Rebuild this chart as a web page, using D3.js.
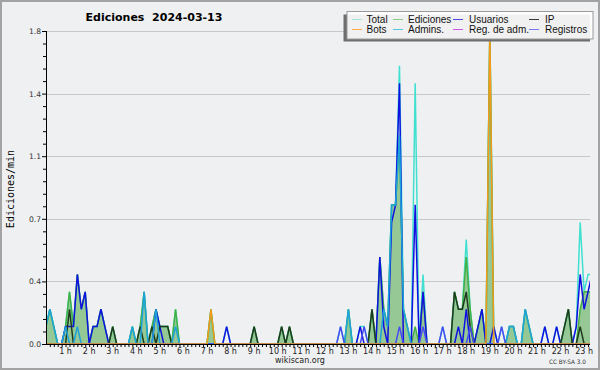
<!DOCTYPE html>
<html>
<head>
<meta charset="utf-8">
<script src="https://cdn.jsdelivr.net/npm/d3@7"></script>
<style>
  body { margin: 0; background: #fff; }
  svg { display: block; }
</style>
</head>
<body>
<div id="chart"></div>
<script>
// Ediciones por 10 minutos (en ediciones/min), 2024-03-13, índice = bloque de 10 min
const title = "Ediciones  2024-03-13";
const yLabel = "Ediciones/min";
const hourLabels = ["1 h", "2 h", "3 h", "4 h", "5 h", "6 h", "7 h", "8 h", "9 h", "10 h", "11 h", "12 h",
  "13 h", "14 h", "15 h", "16 h", "17 h", "18 h", "19 h", "20 h", "21 h", "22 h", "23 h"];
const yTicks = [0, 0.36, 0.72, 1.08, 1.44, 1.8];

const total = [
  0, 0.1, 0.2, 0.1, 0, 0, 0.1, 0.3, 0.1, 0.4, 0.2, 0.3,
  0, 0.1, 0.1, 0.2, 0.1, 0, 0.1, 0, 0, 0, 0, 0.1,
  0, 0.1, 0.3, 0, 0.1, 0.2, 0.1, 0.1, 0.1, 0, 0.2, 0,
  0, 0, 0, 0, 0, 0, 0, 0.2, 0, 0, 0, 0.1,
  0, 0, 0, 0, 0, 0, 0.1, 0, 0, 0, 0, 0,
  0, 0.1, 0, 0.1, 0, 0, 0, 0, 0, 0, 0, 0,
  0, 0, 0, 0, 0.1, 0, 0.2, 0, 0, 0.1, 0.1, 0,
  0.2, 0, 0.5, 0.2, 0.1, 0.8, 0.8, 1.6, 0.2, 0.1, 0, 1.5,
  0, 0.4, 0, 0, 0, 0, 0.1, 0, 0, 0.3, 0.2, 0.2,
  0.6, 0.2, 0, 0.1, 0.2, 0, 1.8, 0.1, 0, 0.1, 0, 0.1,
  0.1, 0, 0, 0.2, 0.1, 0, 0, 0, 0.1, 0, 0, 0.1,
  0, 0.1, 0.2, 0, 0.1, 0.7, 0.3, 0.4, 0.4, 0, 0, 0
];
const edits = [
  0, 0.1, 0.2, 0.1, 0, 0, 0.1, 0.3, 0.1, 0.4, 0.2, 0.3,
  0, 0.1, 0.1, 0.2, 0.1, 0, 0.1, 0, 0, 0, 0, 0.1,
  0, 0.1, 0.3, 0, 0.1, 0.2, 0.1, 0.1, 0.1, 0, 0.2, 0,
  0, 0, 0, 0, 0, 0, 0, 0.2, 0, 0, 0, 0,
  0, 0, 0, 0, 0, 0, 0.1, 0, 0, 0, 0, 0,
  0, 0.1, 0, 0.1, 0, 0, 0, 0, 0, 0, 0, 0,
  0, 0, 0, 0, 0, 0, 0.2, 0, 0, 0, 0, 0,
  0.2, 0, 0.5, 0.2, 0.1, 0.8, 0.8, 1.2, 0.2, 0.1, 0, 0.1,
  0, 0.3, 0, 0, 0, 0, 0, 0, 0, 0.3, 0.2, 0.2,
  0.5, 0.2, 0, 0.1, 0.2, 0, 1.8, 0, 0, 0, 0, 0.1,
  0.1, 0, 0, 0.2, 0.1, 0, 0, 0, 0, 0, 0, 0,
  0, 0.1, 0.2, 0, 0, 0.2, 0.3, 0.3, 0.3, 0, 0, 0
];
const users = [
  0, 0, 0, 0, 0, 0, 0.1, 0.1, 0.1, 0.4, 0.2, 0.3,
  0, 0.1, 0.1, 0.2, 0.1, 0, 0, 0, 0, 0, 0, 0,
  0, 0, 0, 0, 0, 0.2, 0.1, 0, 0, 0, 0, 0,
  0, 0, 0, 0, 0, 0, 0, 0, 0, 0, 0, 0.1,
  0, 0, 0, 0, 0, 0, 0, 0, 0, 0, 0, 0,
  0, 0, 0, 0, 0, 0, 0, 0, 0, 0, 0, 0,
  0, 0, 0, 0, 0, 0, 0, 0, 0, 0.1, 0, 0,
  0, 0, 0.5, 0.1, 0, 0.7, 0.8, 1.5, 0, 0, 0, 0.8,
  0, 0.3, 0, 0, 0, 0, 0, 0, 0, 0, 0.1, 0,
  0.2, 0, 0, 0.1, 0.2, 0, 0, 0.1, 0, 0, 0, 0,
  0, 0, 0, 0, 0, 0, 0, 0, 0.1, 0, 0, 0.1,
  0, 0, 0, 0, 0.1, 0.4, 0.2, 0.3, 0.4, 0, 0, 0
];
const ip = [
  0, 0, 0, 0, 0, 0, 0, 0.2, 0, 0, 0, 0,
  0, 0, 0, 0, 0, 0, 0.1, 0, 0, 0, 0, 0,
  0, 0.1, 0, 0, 0.1, 0, 0.1, 0.1, 0.1, 0, 0, 0,
  0, 0, 0, 0, 0, 0, 0, 0, 0, 0, 0, 0,
  0, 0, 0, 0, 0, 0, 0.1, 0, 0, 0, 0, 0,
  0, 0.1, 0, 0.1, 0, 0, 0, 0, 0, 0, 0, 0,
  0, 0, 0, 0, 0, 0, 0, 0, 0, 0, 0, 0,
  0.2, 0, 0, 0, 0, 0, 0, 0, 0, 0, 0, 0,
  0, 0, 0, 0, 0, 0, 0, 0, 0, 0.3, 0.2, 0.2,
  0.3, 0.1, 0, 0, 0, 0, 0, 0, 0, 0, 0, 0,
  0, 0, 0, 0, 0, 0, 0, 0, 0, 0, 0, 0,
  0, 0.1, 0.2, 0, 0, 0.1, 0, 0, 0, 0, 0, 0
];
const bots = [
  0, 0, 0, 0, 0, 0, 0, 0, 0, 0, 0, 0,
  0, 0, 0, 0, 0, 0, 0, 0, 0, 0, 0, 0,
  0, 0, 0, 0, 0, 0, 0, 0, 0, 0, 0, 0,
  0, 0, 0, 0, 0, 0, 0, 0.2, 0, 0, 0, 0,
  0, 0, 0, 0, 0, 0, 0, 0, 0, 0, 0, 0,
  0, 0, 0, 0, 0, 0, 0, 0, 0, 0, 0, 0,
  0, 0, 0, 0, 0, 0, 0, 0, 0, 0, 0, 0,
  0, 0, 0, 0, 0, 0, 0, 0, 0, 0, 0, 0,
  0, 0, 0, 0, 0, 0, 0, 0, 0, 0, 0, 0,
  0, 0, 0, 0, 0, 0, 1.8, 0, 0, 0, 0, 0,
  0, 0, 0, 0, 0, 0, 0, 0, 0, 0, 0, 0,
  0, 0, 0, 0, 0, 0, 0, 0, 0, 0, 0, 0
];
const admins = [
  0, 0.1, 0.2, 0.1, 0, 0, 0.1, 0, 0, 0.1, 0, 0,
  0, 0, 0, 0, 0, 0, 0, 0, 0, 0, 0, 0.1,
  0, 0, 0.3, 0, 0, 0.2, 0, 0, 0, 0, 0.1, 0,
  0, 0, 0, 0, 0, 0, 0, 0, 0, 0, 0, 0,
  0, 0, 0, 0, 0, 0, 0, 0, 0, 0, 0, 0,
  0, 0, 0, 0, 0, 0, 0, 0, 0, 0, 0, 0,
  0, 0, 0, 0, 0, 0, 0.2, 0, 0, 0, 0, 0,
  0, 0, 0, 0.2, 0.1, 0.8, 0.8, 1.2, 0.2, 0.1, 0, 0,
  0, 0, 0, 0, 0, 0, 0, 0, 0, 0, 0, 0,
  0, 0, 0, 0, 0, 0, 0, 0, 0, 0, 0, 0.1,
  0.1, 0, 0, 0.2, 0.1, 0, 0, 0, 0, 0, 0, 0,
  0, 0, 0, 0, 0, 0, 0, 0, 0, 0, 0, 0
];
const regAdm = [
  0, 0, 0, 0, 0, 0, 0, 0, 0, 0, 0, 0,
  0, 0, 0, 0, 0, 0, 0, 0, 0, 0, 0, 0,
  0, 0, 0, 0, 0, 0, 0, 0, 0, 0, 0, 0,
  0, 0, 0, 0, 0, 0, 0, 0, 0, 0, 0, 0,
  0, 0, 0, 0, 0, 0, 0, 0, 0, 0, 0, 0,
  0, 0, 0, 0, 0, 0, 0, 0, 0, 0, 0, 0,
  0, 0, 0, 0, 0, 0, 0, 0, 0, 0, 0, 0,
  0, 0, 0, 0, 0, 0, 0, 0, 0, 0, 0, 0,
  0, 0, 0, 0, 0, 0, 0, 0, 0, 0, 0, 0,
  0, 0, 0, 0, 0, 0, 0, 0, 0, 0, 0, 0,
  0, 0, 0, 0, 0, 0, 0, 0, 0, 0, 0, 0,
  0, 0, 0, 0, 0, 0, 0, 0, 0, 0, 0, 0
];
const logs = [
  0, 0, 0, 0, 0, 0, 0, 0, 0, 0, 0, 0,
  0, 0, 0, 0, 0, 0, 0, 0, 0, 0, 0, 0,
  0, 0, 0, 0, 0, 0, 0, 0, 0, 0, 0, 0,
  0, 0, 0, 0, 0, 0, 0, 0, 0, 0, 0, 0,
  0, 0, 0, 0, 0, 0, 0, 0, 0, 0, 0, 0,
  0, 0, 0, 0, 0, 0, 0, 0, 0, 0, 0, 0,
  0, 0, 0, 0, 0.1, 0, 0, 0, 0, 0, 0.1, 0,
  0, 0, 0, 0, 0, 0, 0, 0.1, 0, 0, 0, 0,
  0, 0.1, 0, 0, 0, 0, 0.1, 0, 0, 0, 0, 0,
  0, 0.1, 0, 0, 0, 0, 0, 0, 0, 0.1, 0, 0,
  0, 0, 0, 0, 0, 0, 0, 0, 0, 0, 0, 0,
  0, 0, 0, 0, 0, 0, 0, 0, 0, 0, 0, 0
];

// legend order (4 columns, 2 rows)
const legendItems = [
  { label: "Total", color: "#9fe6e0" },
  { label: "Ediciones", color: "#88cc88" },
  { label: "Usuarios", color: "#4a4ae0" },
  { label: "IP", color: "#3a3a3a" },
  { label: "Bots", color: "#ffaa44" },
  { label: "Admins.", color: "#55c8e0" },
  { label: "Reg. de adm.", color: "#d055e8" },
  { label: "Registros", color: "#7878f0" },
];

const width = 600;
const height = 370;
const plot = { left: 46, right: 590, top: 31, bottom: 344 };

const toPoints = (arr) => arr.map((v, i) => ({ t: i * 10, v }));

const x = d3.scaleLinear().domain([0, 1440]).range([42, 42 + 23.57 * 24]);
const y = d3.scaleLinear().domain([0, 1.8]).range([plot.bottom, plot.top]);

const svg = d3
  .select("#chart")
  .append("svg")
  .attr("width", width)
  .attr("height", height)
  .attr("viewBox", [0, 0, width, height]);

// background + frame
svg
  .append("rect")
  .attr("x", 1)
  .attr("y", 1)
  .attr("width", width - 2)
  .attr("height", height - 2)
  .attr("fill", "#eff0f2")
  .attr("stroke", "#a3a3a3")
  .attr("stroke-width", 2);

svg
  .append("defs")
  .append("clipPath")
  .attr("id", "plotclip")
  .append("rect")
  .attr("x", plot.left)
  .attr("y", 0)
  .attr("width", plot.right - plot.left)
  .attr("height", plot.bottom);

// grid
svg
  .append("g")
  .selectAll("line")
  .data(yTicks)
  .join("line")
  .attr("x1", plot.left)
  .attr("x2", plot.right)
  .attr("y1", (d) => Math.round(y(d)) + 0.5)
  .attr("y2", (d) => Math.round(y(d)) + 0.5)
  .attr("stroke", "#c8c8c8");

const chart = svg.append("g").attr("clip-path", "url(#plotclip)");

const area = d3
  .area()
  .x((d) => x(d.t))
  .y0(y(0))
  .y1((d) => y(d.v));

const line = d3
  .line()
  .x((d) => x(d.t))
  .y((d) => y(d.v));

chart
  .append("path")
  .datum(toPoints(edits))
  .attr("d", area)
  .attr("fill", "#96c896");

const lineSeries = [
  { values: total, color: "#40e0d0" },
  { values: edits, color: "#44b044" },
  { values: users, color: "#1010e0" },
  { values: ip, color: "#1e3a1e" },
  { values: admins, color: "#1ea2dc" },
  { values: regAdm, color: "#cc44ee", skipZero: true },
  { values: logs, color: "#4a4af2" },
  { values: bots, color: "#f59a1a" },
];

lineSeries.forEach((s) => {
  if (s.skipZero) return; // all zero, hidden under the axis
  chart
    .append("path")
    .datum(toPoints(s.values))
    .attr("d", line)
    .attr("fill", "none")
    .attr("stroke", s.color)
    .attr("stroke-width", 1.5)
    .attr("stroke-linejoin", "miter");
});

// x axis
const minorTimes = d3.range(10, 1440, 10).filter((t) => x(t) >= plot.left && x(t) <= plot.right);
const xAxis = svg
  .append("g")
  .attr("transform", `translate(0,${plot.bottom})`)
  .call(d3.axisBottom(x).tickValues(minorTimes).tickSize(3).tickFormat(""));
xAxis.select(".domain").remove();
xAxis.selectAll("line").attr("stroke", "#000");

svg
  .append("line")
  .attr("x1", plot.left)
  .attr("x2", plot.right)
  .attr("y1", plot.bottom + 0.5)
  .attr("y2", plot.bottom + 0.5)
  .attr("stroke", "#000");

svg
  .append("g")
  .selectAll("text")
  .data(hourLabels)
  .join("text")
  .attr("x", (d, i) => x((i + 1) * 60))
  .attr("y", 353.5)
  .attr("text-anchor", "middle")
  .attr("font-family", "DejaVu Sans")
  .attr("font-size", 8)
  .attr("fill", "#222")
  .text((d) => d);

// y axis
const minorY = d3.range(0, 26).filter((k) => k % 5 !== 0).map((k) => k * 0.072);
const yMinor = svg
  .append("g")
  .attr("transform", `translate(${plot.left},0)`)
  .call(d3.axisLeft(y).tickValues(minorY).tickSize(3).tickFormat(""));
yMinor.select(".domain").remove();

const yAxis = svg
  .append("g")
  .attr("transform", `translate(${plot.left},0)`)
  .call(d3.axisLeft(y).tickValues(yTicks).tickSize(4).tickPadding(1).tickFormat(d3.format(".1f")));
yAxis.select(".domain").remove();
yAxis
  .selectAll("text")
  .attr("font-family", "DejaVu Sans")
  .attr("font-size", 7.6)
  .attr("fill", "#333");

svg
  .append("line")
  .attr("x1", plot.left + 0.5)
  .attr("x2", plot.left + 0.5)
  .attr("y1", plot.top)
  .attr("y2", plot.bottom + 1)
  .attr("stroke", "#000");

// titles
svg
  .append("text")
  .attr("x", 154)
  .attr("y", 21)
  .attr("text-anchor", "middle")
  .attr("font-family", "DejaVu Sans")
  .attr("font-weight", "bold")
  .attr("font-size", 11)
  .style("white-space", "pre")
  .text(title);

svg
  .append("text")
  .attr("transform", "translate(13.5,189) rotate(-90)")
  .attr("text-anchor", "middle")
  .attr("font-family", "DejaVu Sans Mono")
  .attr("font-size", 10)
  .text(yLabel);

svg
  .append("text")
  .attr("x", 300)
  .attr("y", 363)
  .attr("text-anchor", "middle")
  .attr("font-family", "DejaVu Sans")
  .attr("font-size", 8)
  .attr("fill", "#222")
  .text("wikiscan.org");

svg
  .append("text")
  .attr("x", 549)
  .attr("y", 364)
  .attr("font-family", "DejaVu Sans")
  .attr("font-size", 6)
  .attr("textLength", 37)
  .attr("lengthAdjust", "spacingAndGlyphs")
  .attr("fill", "#333")
  .text("CC BY-SA 3.0");

// legend with shadow
const legend = svg.append("g");
legend
  .append("rect")
  .attr("x", 343.5)
  .attr("y", 14.5)
  .attr("width", 246.5)
  .attr("height", 27)
  .attr("fill", "#6e6e6e");
legend
  .append("rect")
  .attr("x", 347)
  .attr("y", 11.5)
  .attr("width", 246)
  .attr("height", 27.5)
  .attr("fill", "#fff")
  .attr("fill-opacity", 0.9)
  .attr("stroke", "#9a9a9a");

const colSwatch = [352, 393, 453, 529];
const colText = [366.5, 408, 469, 545];
const rowY = [19.5, 29.5];

const item = legend
  .selectAll("g.item")
  .data(legendItems)
  .join("g")
  .attr("class", "item");

item
  .append("line")
  .attr("x1", (d, i) => colSwatch[i % 4])
  .attr("x2", (d, i) => colSwatch[i % 4] + 10)
  .attr("y1", (d, i) => rowY[Math.floor(i / 4)])
  .attr("y2", (d, i) => rowY[Math.floor(i / 4)])
  .attr("stroke", (d) => d.color)
  .attr("stroke-width", 1);

item
  .append("text")
  .attr("x", (d, i) => colText[i % 4])
  .attr("y", (d, i) => rowY[Math.floor(i / 4)] + 3.3)
  .attr("font-family", "Liberation Sans")
  .attr("font-size", 10)
  .attr("fill", "#111")
  .text((d) => d.label);
</script>
</body>
</html>
